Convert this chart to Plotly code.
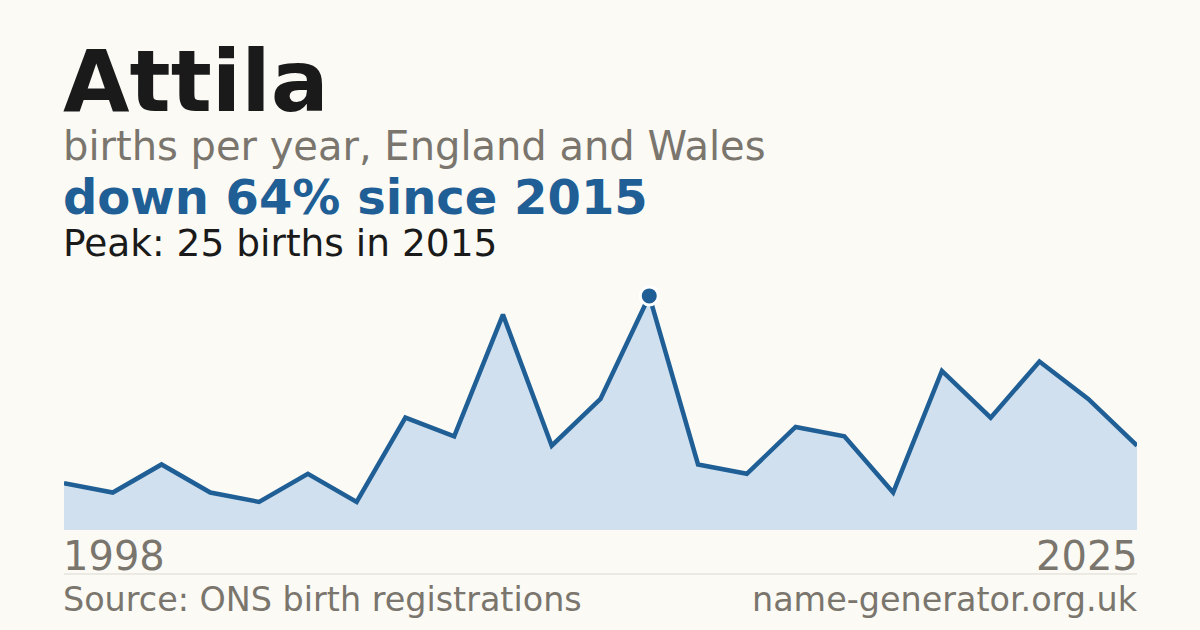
import plotly.graph_objects as go

# births per year for the name Attila (years with too few births are left out)
years = ["1998", "1999", "2001", "2003", "2005", "2007", "2008", "2010", "2011",
         "2012", "2013", "2014", "2015", "2016", "2017", "2018", "2019", "2020",
         "2021", "2022", "2023", "2024", "2025"]
births = [5, 4, 7, 4, 3, 6, 3, 12, 10, 23, 9, 14, 25, 7, 6, 11, 10, 4, 17, 12, 18, 14, 9]

name = "Attila"
subtitle = "births per year, England and Wales"
source = "Source: ONS birth registrations"
site = "name-generator.org.uk"

BG = "#fbfaf5"
BLUE = "#1f5f95"
FILL = "#d0e0ef"
GREY = "#7a756d"
DARK = "#1a1a1a"
FONT = "DejaVu Sans"

peak_i = births.index(max(births))
change = round((births[-1] - births[peak_i]) / births[peak_i] * 100)
headline = "down {0}% since {1}".format(abs(change), years[peak_i])
peak_text = "Peak: {0} births in {1}".format(births[peak_i], years[peak_i])

# plot area runs from pixel 280 to 530 vertically
def py(p):
    return (530 - p) / 250.0

fig = go.Figure()
fig.add_trace(go.Scatter(x=years, y=births, mode="lines", fill="tozeroy",
                         fillcolor=FILL, line=dict(color=BLUE, width=4.5),
                         hoverinfo="skip"))
fig.add_trace(go.Scatter(x=[years[peak_i]], y=[births[peak_i]], mode="markers",
                         marker=dict(size=18, color=BLUE, line=dict(color="white", width=3)),
                         hoverinfo="skip"))

texts = [
    (name, 86, DARK, True, 81, 0, "left"),
    (subtitle, 40, GREY, False, 146, 0, "left"),
    (headline, 48, BLUE, True, 197, 0, "left"),
    (peak_text, 37.5, DARK, False, 243, 0, "left"),
    (years[0], 40, GREY, False, 556, 0, "left"),
    (years[-1], 40, GREY, False, 556, 1, "right"),
    (source, 33.4, GREY, False, 599, 0, "left"),
    (site, 33.4, GREY, False, 599, 1, "right"),
]
for txt, size, col, bold, ypix, xp, anchor in texts:
    fig.add_annotation(text="<b>%s</b>" % txt if bold else txt,
                       xref="paper", yref="paper", x=xp, y=py(ypix),
                       xanchor=anchor, yanchor="middle", showarrow=False,
                       xshift=-3 if anchor == "left" else 3,
                       font=dict(family=FONT, size=size, color=col))

fig.add_shape(type="line", xref="paper", yref="paper", x0=0, x1=1,
              y0=py(574), y1=py(574), line=dict(color="#dcd9d2", width=1))

fig.update_layout(
    width=1200, height=630,
    margin=dict(l=64, r=63, t=280, b=100),
    paper_bgcolor=BG, plot_bgcolor=BG,
    showlegend=False,
    font=dict(family=FONT),
    xaxis=dict(type="category", range=[0, len(years) - 1], visible=False),
    yaxis=dict(range=[0, 26.7], visible=False),
)

fig.write_html("out.html", config={"displayModeBar": False},
               post_script="document.body.style.margin='0';"
                           "document.body.style.background='%s';" % BG)
